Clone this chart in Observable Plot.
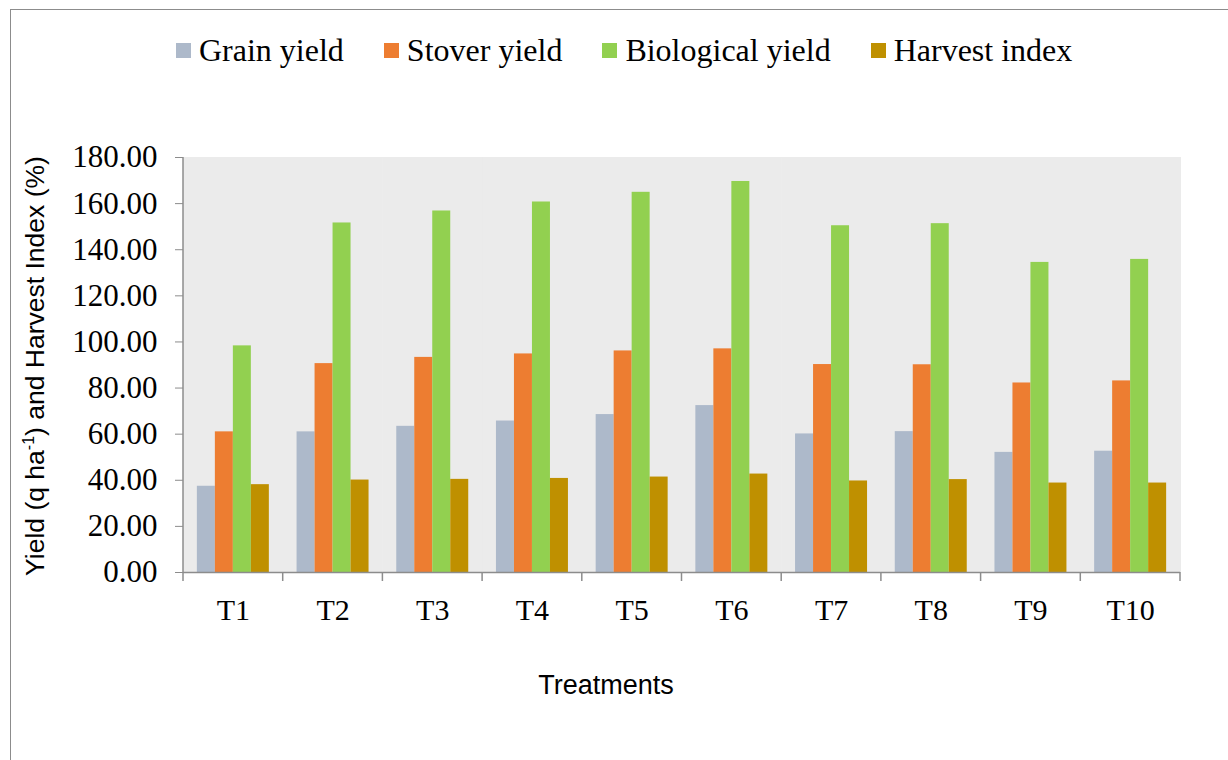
<!DOCTYPE html>
<html>
<head>
<meta charset="utf-8">
<script src="https://cdn.jsdelivr.net/npm/d3@7"></script>
<script src="https://cdn.jsdelivr.net/npm/@observablehq/plot@0.6"></script>
<style>
  html, body { margin: 0; padding: 0; background: #fff; }
  body { width: 1228px; height: 760px; overflow: hidden; position: relative; }
  #border { position: absolute; left: 10px; top: 9px; width: 1400px; height: 900px;
            border-left: 1.5px solid #8c8c8c; border-top: 1.5px solid #8c8c8c; }
  #legend { position: absolute; left: 176px; top: 32px; display: flex; align-items: center;
            font-family: "Liberation Serif", "Times New Roman", serif; font-size: 32px; color: #000; }
  .item { display: flex; align-items: center; margin-right: 40px; }
  .sw { width: 15px; height: 15px; margin-right: 8px; }
  #chart { position: absolute; left: 0; top: 100px; }
  #ytitle { position: absolute; left: 35px; top: 366px; transform: translate(-50%, -50%) rotate(-90deg);
            white-space: nowrap; font-family: "Liberation Sans", Arial, sans-serif; font-size: 26.5px; color: #000; }
  #xtitle { position: absolute; left: 606px; top: 685px; transform: translate(-50%, -50%);
            white-space: nowrap; font-family: "Liberation Sans", Arial, sans-serif; font-size: 27px; color: #000; }
</style>
</head>
<body>
<div id="border"></div>
<div id="legend"></div>
<div id="chart"></div>
<div id="ytitle">Yield (q ha<sup style="font-size:16px">-1</sup>) and Harvest Index (%)</div>
<div id="xtitle">Treatments</div>
<script>
const treatments = ["T1","T2","T3","T4","T5","T6","T7","T8","T9","T10"];
const seriesNames = ["Grain yield","Stover yield","Biological yield","Harvest index"];
const seriesColors = ["#adb9ca","#ed7d31","#92d050","#bf9000"];
const grainYield      = [37.4, 61.0, 63.4, 65.7, 68.5, 72.4, 60.1, 61.1, 52.1, 52.6];
const stoverYield     = [61.0, 90.6, 93.3, 94.8, 96.1, 97.0, 90.2, 90.1, 82.2, 83.1];
const biologicalYield = [98.3, 151.6, 156.8, 160.7, 164.9, 169.6, 150.4, 151.3, 134.5, 135.8];
const harvestIndex    = [38.1, 40.1, 40.4, 40.8, 41.4, 42.7, 39.7, 40.3, 38.8, 38.8];
const yTicks = [0, 20, 40, 60, 80, 100, 120, 140, 160, 180];

const seriesValues = [grainYield, stoverYield, biologicalYield, harvestIndex];
const data = [];
treatments.forEach((t, i) => {
  seriesNames.forEach((s, j) => data.push({treatment: t, series: s, value: seriesValues[j][i]}));
});

// legend
const legend = document.getElementById("legend");
seriesNames.forEach((s, j) => {
  const it = document.createElement("div");
  it.className = "item";
  it.innerHTML = `<div class="sw" style="background:${seriesColors[j]}"></div><span>${s}</span>`;
  legend.appendChild(it);
});

const W = 1228, H = 660;
const chart = Plot.plot({
  width: W,
  height: H,
  marginTop: 57,
  marginBottom: 188,
  marginLeft: 183,
  marginRight: 48,
  style: {fontFamily: "Liberation Serif, Times New Roman, serif", background: "transparent"},
  fx: {domain: treatments, padding: 0, round: false},
  x: {domain: seriesNames, paddingInner: 0, paddingOuter: 0.77, round: false, axis: null},
  y: {domain: [0, 180]},
  color: {domain: seriesNames, range: seriesColors},
  marks: [
    Plot.frame({fill: "#ebebeb", stroke: "#ebebeb", strokeWidth: 1}),
    Plot.barY(data, {fx: "treatment", x: "series", y: "value", fill: "series"}),
    Plot.ruleY([0], {stroke: "#8c8c8c", strokeWidth: 1.5}),
    Plot.axisY({ticks: yTicks, tickFormat: d3.format(".2f"), tickSize: 8, tickPadding: 18,
                fontSize: 31, stroke: "#8c8c8c", color: "#000", label: null}),
    Plot.axisFx({anchor: "bottom", tickSize: 0, tickPadding: 26, fontSize: 30, label: null, color: "#000"})
  ]
});
document.getElementById("chart").appendChild(chart);

// axis line on the left and category boundary ticks, from Plot's scales
const fx = chart.scale("fx");
const y = chart.scale("y");
const svg = d3.select(chart);
const y0 = y.apply(0), y1 = y.apply(180);
const x0 = fx.apply(treatments[0]);
const bw = fx.bandwidth;
const g = svg.append("g").attr("stroke", "#8c8c8c").attr("stroke-width", 1.5);
g.append("line").attr("x1", x0).attr("x2", x0).attr("y1", y1).attr("y2", y0);
const bounds = treatments.map(t => fx.apply(t)).concat([fx.apply(treatments[treatments.length - 1]) + bw]);
bounds.forEach(b => g.append("line").attr("x1", b).attr("x2", b).attr("y1", y0).attr("y2", y0 + 9));
</script>
</body>
</html>
